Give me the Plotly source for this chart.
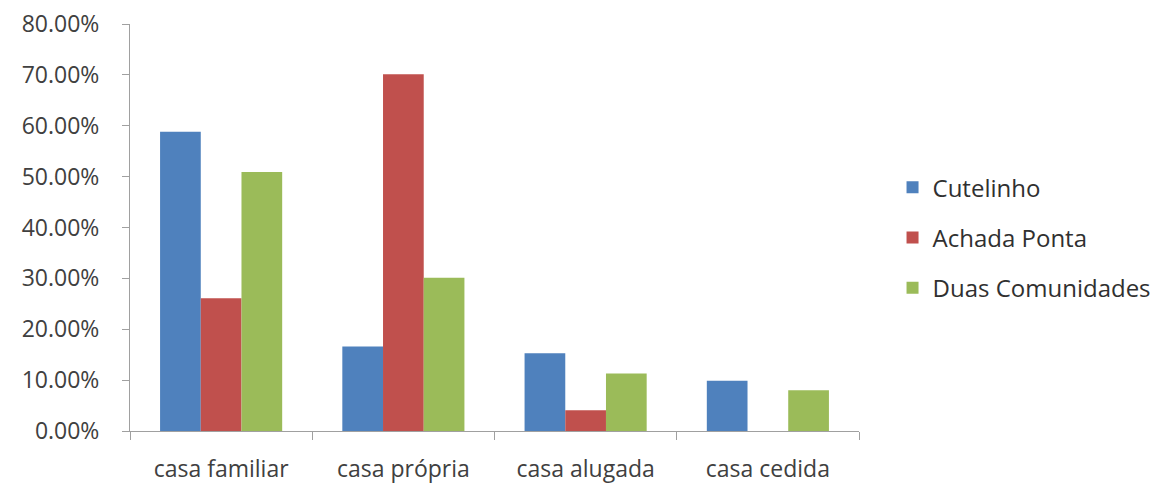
import plotly.graph_objects as go

# Dados
categorias = ['casa familiar', 'casa própria', 'casa alugada', 'casa cedida']
cutelinho = [0.588, 0.166, 0.153, 0.099]
achada_ponta = [0.261, 0.701, 0.041, 0.0]
duas_comunidades = [0.509, 0.301, 0.113, 0.080]

series = [
    ('Cutelinho', cutelinho, '#4F81BD'),
    ('Achada Ponta', achada_ponta, '#C0504D'),
    ('Duas Comunidades', duas_comunidades, '#9BBB59'),
]

fig = go.Figure()
for nome, valores, cor in series:
    fig.add_trace(go.Bar(
        x=categorias, y=valores, name=nome,
        marker=dict(color=cor, line=dict(width=0)),
        legendgroup=nome,
    ))

fig.update_layout(
    width=1161, height=475,
    margin=dict(l=122, r=308, t=16, b=52),
    paper_bgcolor='white', plot_bgcolor='white',
    font=dict(family='Open Sans', size=23, color='#404040'),
    barmode='group', bargap=0.33, bargroupgap=0,
    legend=dict(
        x=1.046, xanchor='left', y=0.475, yanchor='middle',
        font=dict(size=24, color='#303030'),
        traceorder='grouped', tracegroupgap=16,
    ),
)
fig.update_yaxes(
    range=[0, 0.8], dtick=0.1, tickformat='.2%', automargin=False,
    showgrid=False, zeroline=False, ticklabeloverflow='allow',
    showline=True, linecolor='#A0A0A0', linewidth=1,
    ticks='outside', ticklen=7, tickcolor='#A0A0A0', ticklabelstandoff=18,
)
fig.update_xaxes(
    automargin=False, ticklabeloverflow='allow',
    showline=True, linecolor='#A0A0A0', linewidth=1,
    ticks='outside', tickson='boundaries', ticklen=8, tickcolor='#A0A0A0',
    showgrid=False, ticklabelstandoff=17,
)

fig.write_html('out.html')
